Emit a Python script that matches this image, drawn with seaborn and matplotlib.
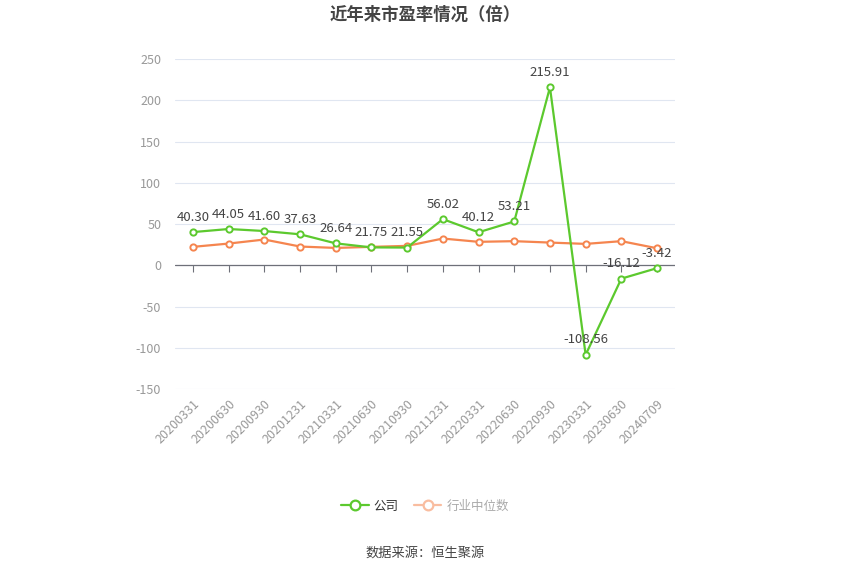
import pandas as pd
import seaborn as sns
import matplotlib.pyplot as plt
from matplotlib.lines import Line2D

sns.set_style("white")
plt.rcParams['font.family'] = ['Noto Sans CJK SC', 'DejaVu Sans']
plt.rcParams['axes.unicode_minus'] = False

# data
dates = ['20200331', '20200630', '20200930', '20201231', '20210331', '20210630',
         '20210930', '20211231', '20220331', '20220630', '20220930', '20230331',
         '20230630', '20240709']
company = [40.30, 44.05, 41.60, 37.63, 26.64, 21.75, 21.55, 56.02, 40.12, 53.21,
           215.91, -108.56, -16.12, -3.42]
industry = [22.4, 26.4, 31.3, 22.8, 21.1, 22.4, 23.6, 32.5, 28.5, 29.3, 27.6, 26.0,
            29.3, 20.7]
yticks = [-150, -100, -50, 0, 50, 100, 150, 200, 250]

green = '#5cc92e'
orange = '#f5854f'

df = pd.DataFrame({'date': dates, 'company': company, 'industry': industry})

fig = plt.figure(figsize=(8.5, 5.75), dpi=100)
ax = fig.add_axes([0.206, 0.3235, 0.588, 0.5735])

ax.grid(axis='y', color='#e0e6f1', lw=0.8)
ax.set_axisbelow(True)
ax.axhline(0, color='#6e7079', lw=0.9, zorder=1)

sns.lineplot(data=df, x='date', y='industry', ax=ax, color=orange, lw=1.6,
             marker='o', markersize=4.5, markerfacecolor='white',
             markeredgecolor=orange, markeredgewidth=1.4, sort=False, zorder=3)
sns.lineplot(data=df, x='date', y='company', ax=ax, color=green, lw=1.6,
             marker='o', markersize=4.5, markerfacecolor='white',
             markeredgecolor=green, markeredgewidth=1.4, sort=False, zorder=4)

for i, v in enumerate(company):
    ax.annotate(f'{v:.2f}', (i, v), xytext=(0, 6), textcoords='offset points',
                ha='center', va='bottom', fontsize=9.5, color='#444444', zorder=5)

ax.set_xlim(-0.5, len(dates) - 0.5)
ax.set_ylim(-150, 250)
ax.set_yticks(yticks)
ax.set_xticks(range(len(dates)))
ax.set_xticklabels(dates, rotation=45, ha='right', rotation_mode='anchor')
ax.tick_params(axis='x', length=0, pad=6, labelsize=9, labelcolor='#999999')
ax.tick_params(axis='y', length=0, pad=10, labelsize=9, labelcolor='#999999')
ax.set_xlabel('')
ax.set_ylabel('')
for s in ax.spines.values():
    s.set_visible(False)

# tick marks hanging from the zero axis
zero_ax = ax.secondary_xaxis(150 / 400)
zero_ax.set_xticks(range(len(dates)))
zero_ax.set_xticklabels([])
zero_ax.tick_params(axis='x', direction='out', length=5, color='#6e7079', width=0.8)
for s in zero_ax.spines.values():
    s.set_visible(False)
zero_ax.xaxis.set_ticks_position('bottom')

fig.text(0.5, 0.975, '近年来市盈率情况（倍）', ha='center', va='center',
         fontsize=12.5, fontweight='bold', color='#444444')

handles = [
    Line2D([], [], color=green, lw=1.6, marker='o', markersize=7,
           markerfacecolor='white', markeredgecolor=green, markeredgewidth=1.6),
    Line2D([], [], color='#f9bda0', lw=1.6, marker='o', markersize=7,
           markerfacecolor='white', markeredgecolor='#f9bda0', markeredgewidth=1.6),
]
leg = fig.legend(handles, ['公司', '行业中位数'], loc='center', bbox_to_anchor=(0.5, 0.12),
                 ncol=2, frameon=False, fontsize=9, handlelength=2.2,
                 handletextpad=0.4, columnspacing=1.2)
leg.get_texts()[0].set_color('#333333')
leg.get_texts()[1].set_color('#aaaaaa')

fig.text(0.5, 0.038, '数据来源：恒生聚源', ha='center', va='center',
         fontsize=9.5, color='#444444')

fig.savefig('out.png', dpi=100)
